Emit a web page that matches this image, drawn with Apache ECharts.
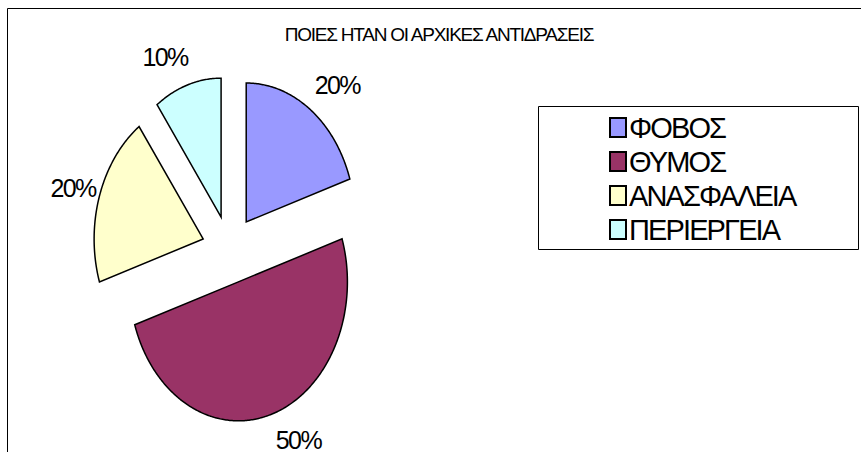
<!DOCTYPE html>
<html>
<head>
<meta charset="utf-8">
<style>
html,body{margin:0;padding:0;background:#fff;}
#c{width:861px;height:452px;}
svg text{letter-spacing:-0.065em;}
</style>
<script src="https://cdn.jsdelivr.net/npm/echarts@6/dist/echarts.min.js"></script>
</head>
<body>
<div id="c"></div>
<script>
const titleText = 'ΠΟΙΕΣ ΗΤΑΝ ΟΙ ΑΡΧΙΚΕΣ ΑΝΤΙΔΡΑΣΕΙΣ';
const categories = ['ΦΟΒΟΣ', 'ΘΥΜΟΣ', 'ΑΝΑΣΦΑΛΕΙΑ', 'ΠΕΡΙΕΡΓΕΙΑ'];
const values = [20, 50, 20, 10];
const colors = ['#9999FF', '#993366', '#FFFFCC', '#CCFFFF'];

const total = values.reduce((a, b) => a + b, 0);
const cx = 229.75, cy = 249.5, rx = 109, ry = 139, offX = 28, offY = 34;
const FONT = '"Liberation Sans", Arial, sans-serif';
const LABEL_OFFSET = [[91, -137], [60, 158], [-130, -51], [-56, -160]];

function sliceItem(index) {
  return function (params, api) {
    let before = 0;
    for (let i = 0; i < index; i++) before += values[i];
    const a0 = before / total * Math.PI * 2;
    const a1 = (before + api.value(0)) / total * Math.PI * 2;
    const mid = (a0 + a1) / 2;
    const ox = cx + offX * Math.sin(mid), oy = cy - offY * Math.cos(mid);
    const pts = [[ox, oy]];
    const steps = Math.ceil((a1 - a0) * 90);
    for (let s = 0; s <= steps; s++) {
      const a = a0 + (a1 - a0) * s / steps;
      pts.push([ox + rx * Math.sin(a), oy - ry * Math.cos(a)]);
    }
    return {
      type: 'group',
      children: [
        { type: 'polygon', shape: { points: pts },
          style: { fill: colors[index], stroke: '#000', lineWidth: 1.5, lineJoin: 'miter' } },
        { type: 'text', x: ox + LABEL_OFFSET[index][0], y: oy + LABEL_OFFSET[index][1],
          style: { text: api.value(0) + '%', fill: '#000', font: '25px ' + FONT, align: 'center', verticalAlign: 'middle' } }
      ]
    };
  };
}

const chart = echarts.init(document.getElementById('c'), null, { renderer: 'svg' });
chart.setOption({
  animation: false,
  backgroundColor: '#fff',
  title: {
    text: titleText, left: 434, top: 20, textAlign: 'center',
    textStyle: { fontFamily: FONT, fontWeight: 'normal', fontSize: 19, color: '#000' }
  },
  legend: {
    data: categories, orient: 'vertical', left: 604, top: 108, itemWidth: 16, itemHeight: 19, itemGap: 5,
    textStyle: { fontFamily: FONT, fontSize: 29, color: '#000', padding: [0, 0, 0, -2] },
    itemStyle: { borderColor: '#000', borderWidth: 2 },
    icon: 'rect', selectedMode: false
  },
  graphic: [
    { type: 'polyline', shape: { points: [[7.5, 452], [7.5, 8.5], [861, 8.5]] }, style: { fill: 'none', stroke: '#000', lineWidth: 1 }, silent: true },
    { type: 'rect', shape: { x: 538.5, y: 106.5, width: 320, height: 143 }, style: { fill: '#fff', stroke: '#000', lineWidth: 1 }, silent: true, z: -1 }
  ],
  series: categories.map((name, i) => ({
    type: 'custom', name, coordinateSystem: 'none', silent: true,
    itemStyle: { color: colors[i] },
    renderItem: sliceItem(i),
    data: [[values[i]]]
  }))
});
</script>
</body>
</html>
